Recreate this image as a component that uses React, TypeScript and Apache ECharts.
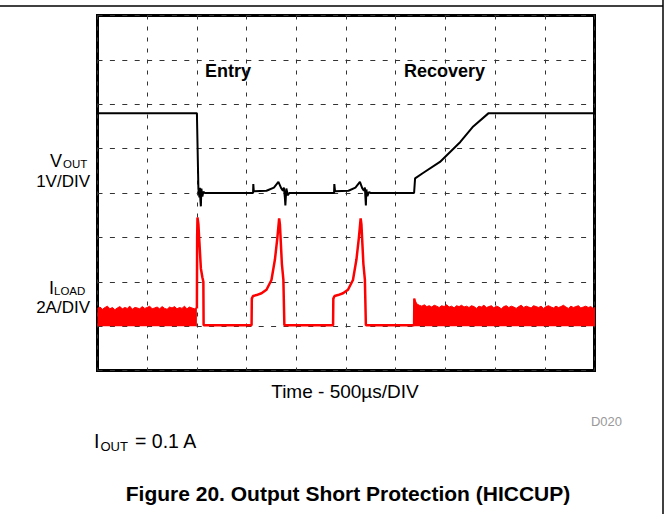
import React, { useEffect, useRef } from "react";
import * as echarts from "echarts";

// Axis extents in scope divisions
const X_MIN = 0;
const X_MAX = 10;
const Y_MIN = 0;
const Y_MAX = 8;

// VOUT trace (x in divisions, y in divisions; 1V/DIV, ground at 4 div)
const VOUT_T = [0, 2.0, 2.03, 2.04, 2.05, 2.06, 2.07, 2.08, 2.09, 2.11, 2.13, 2.16, 3.13, 3.135, 3.145, 3.4, 3.55, 3.64, 3.7, 3.73, 3.75, 3.77, 3.78, 3.8, 3.83, 3.86, 4.76, 4.765, 4.78, 5.05, 5.19, 5.28, 5.33, 5.36, 5.38, 5.4, 5.41, 5.43, 5.46, 5.5, 6.37, 6.39, 6.55, 6.89, 7.3, 7.56, 7.87, 10];
const VOUT_V = [5.8, 5.8, 4.1, 4.0, 3.9, 4.12, 3.85, 3.7, 4.1, 3.92, 4.03, 4.0, 4.0, 4.2, 4.04, 4.05, 4.12, 4.25, 4.1, 4.05, 4.12, 3.9, 3.72, 4.1, 3.95, 4.0, 4.0, 4.2, 4.04, 4.05, 4.12, 4.25, 4.1, 4.05, 4.12, 3.72, 4.08, 3.93, 4.02, 4.0, 4.0, 4.33, 4.45, 4.7, 5.15, 5.5, 5.8, 5.8];

// ILOAD trace during hiccup (2A/DIV, zero at 1 div)
const ILOAD_T = [2.0, 2.005, 2.012, 2.03, 2.05, 2.08, 2.11, 2.13, 2.135, 3.10, 3.105, 3.13, 3.2, 3.3, 3.4, 3.5, 3.57, 3.62, 3.655, 3.67, 3.71, 3.74, 3.76, 4.74, 4.745, 4.77, 4.84, 4.94, 5.04, 5.14, 5.21, 5.26, 5.295, 5.31, 5.35, 5.38, 5.40, 6.37, 6.375];
const ILOAD_A = [1.4, 3.0, 3.45, 3.3, 2.9, 2.3, 2.1, 2.0, 1.02, 1.02, 1.62, 1.68, 1.7, 1.74, 1.82, 2.04, 2.5, 3.0, 3.43, 3.3, 2.4, 2.05, 1.02, 1.02, 1.62, 1.68, 1.7, 1.74, 1.82, 2.04, 2.5, 3.0, 3.43, 3.3, 2.4, 2.05, 1.02, 1.02, 1.62];

// ILOAD switching-noise envelope (top of the red band)
const ILOAD_ZERO = 1.0;
const NOISE_STEP = 0.05;
const NOISE_PRE_START = 0;
const NOISE_PRE = [1.40, 1.43, 1.38, 1.42, 1.45, 1.39, 1.42, 1.37, 1.41, 1.44, 1.39, 1.42, 1.40, 1.45, 1.38, 1.42, 1.41, 1.39, 1.44, 1.40, 1.42, 1.45, 1.39, 1.41, 1.43, 1.39, 1.44, 1.40, 1.38, 1.43, 1.41, 1.44, 1.39, 1.42, 1.40, 1.45, 1.39, 1.43, 1.41, 1.39, 1.42];
const NOISE_POST_START = 6.375;
const NOISE_POST = [1.62, 1.50, 1.47, 1.45, 1.48, 1.44, 1.46, 1.43, 1.47, 1.45,
  1.42, 1.46, 1.44, 1.48, 1.43, 1.45, 1.41, 1.46, 1.44, 1.47,
  1.43, 1.45, 1.42, 1.46, 1.44, 1.40, 1.45, 1.43, 1.47, 1.42,
  1.44, 1.46, 1.41, 1.45, 1.43, 1.39, 1.44, 1.46, 1.42, 1.45,
  1.43, 1.40, 1.44, 1.47, 1.42, 1.45, 1.43, 1.41, 1.46, 1.44,
  1.42, 1.45, 1.40, 1.44, 1.46, 1.43, 1.41, 1.45, 1.42, 1.44,
  1.47, 1.43, 1.40, 1.45, 1.42, 1.44, 1.46, 1.41, 1.43, 1.45,
  1.42, 1.44, 1.40, 1.43];

const FONT = '"Liberation Sans", Arial, Helvetica, sans-serif';

function txt(x: number, y: number, text: string, size: number, align: string, opts: any = {}) {
  return {
    type: "text",
    x,
    y,
    silent: true,
    style: {
      text,
      font: `${opts.bold ? "bold " : ""}${size}px ${FONT}`,
      fill: opts.fill || "#000",
      align,
      verticalAlign: "middle",
      textAlign: align,
      textVerticalAlign: "middle",
    },
  };
}

export default function App() {
  const ref = useRef<HTMLDivElement>(null);
  useEffect(() => {
    const chart = echarts.init(ref.current!, null, { renderer: "svg" });
    const vout = VOUT_T.map((t, i) => [t, VOUT_V[i]]);
    const iload = ILOAD_T.map((t, i) => [t, ILOAD_A[i]]);
    const noisePre = NOISE_PRE.map((v, i) => [NOISE_PRE_START + i * NOISE_STEP, v]);
    const noisePost = NOISE_POST.map((v, i) => [NOISE_POST_START + i * NOISE_STEP, v]);
    const red = "#ff0000";
    const noiseSeries = (data: number[][]) => ({
      type: "line",
      data,
      symbol: "none",
      silent: true,
      lineStyle: { color: red, width: 1 },
      areaStyle: { color: red, opacity: 1, origin: ILOAD_ZERO },
      z: 2,
    });
    const option: any = {
      animation: false,
      backgroundColor: "#fff",
      grid: {
        left: 97.5,
        top: 15.5,
        width: 497,
        height: 355,
        show: true,
        borderColor: "#000",
        borderWidth: 3,
        backgroundColor: "transparent",
      },
      xAxis: {
        type: "value",
        min: X_MIN,
        max: X_MAX,
        interval: 1,
        axisLine: { show: false },
        axisTick: { show: false },
        axisLabel: { show: false },
        splitLine: { show: true, lineStyle: { color: "#333", width: 1, type: [4, 7] } },
      },
      yAxis: {
        type: "value",
        min: Y_MIN,
        max: Y_MAX,
        interval: 1,
        axisLine: { show: false },
        axisTick: { show: false },
        axisLabel: { show: false },
        splitLine: { show: true, lineStyle: { color: "#333", width: 1, type: [5, 7.4] } },
      },
      series: [
        noiseSeries(noisePre),
        noiseSeries(noisePost),
        {
          type: "line",
          data: iload,
          symbol: "none",
          silent: true,
          lineStyle: { color: red, width: 2.5 },
          z: 3,
        },
        {
          type: "line",
          data: vout,
          symbol: "none",
          silent: true,
          lineStyle: { color: "#000", width: 2 },
          z: 4,
        },
      ],
      graphic: [
        { type: "line", silent: true, shape: { x1: 0, y1: 6, x2: 663, y2: 6 }, style: { stroke: "#000", lineWidth: 1.5 } },
        { type: "line", silent: true, shape: { x1: 663, y1: 0, x2: 663, y2: 514 }, style: { stroke: "#000", lineWidth: 1.5 } },
        txt(205, 71, "Entry", 18, "left", { bold: true }),
        txt(404, 71, "Recovery", 18, "left", { bold: true }),
        txt(50, 160.5, "V", 18, "left"),
        txt(63, 164, "OUT", 11.5, "left"),
        txt(90, 181.5, "1V/DIV", 17, "right"),
        txt(49, 287.5, "I", 18, "left"),
        txt(54, 290.5, "LOAD", 11.5, "left"),
        txt(90, 307.5, "2A/DIV", 17, "right"),
        txt(345, 391, "Time - 500µs/DIV", 19, "center"),
        txt(622, 421, "D020", 13, "right", { fill: "#999" }),
        txt(94, 441, "I", 19.5, "left"),
        txt(100.5, 446, "OUT", 13, "left"),
        txt(135, 441, "= 0.1 A", 19.5, "left"),
        txt(348, 493, "Figure 20. Output Short Protection (HICCUP)", 21, "center", { bold: true }),
      ],
    };
    chart.setOption(option);
    return () => chart.dispose();
  }, []);
  return (
    <div
      ref={ref}
      style={{ position: "absolute", left: 0, top: 0, width: 671, height: 514, background: "#fff" }}
    />
  );
}
